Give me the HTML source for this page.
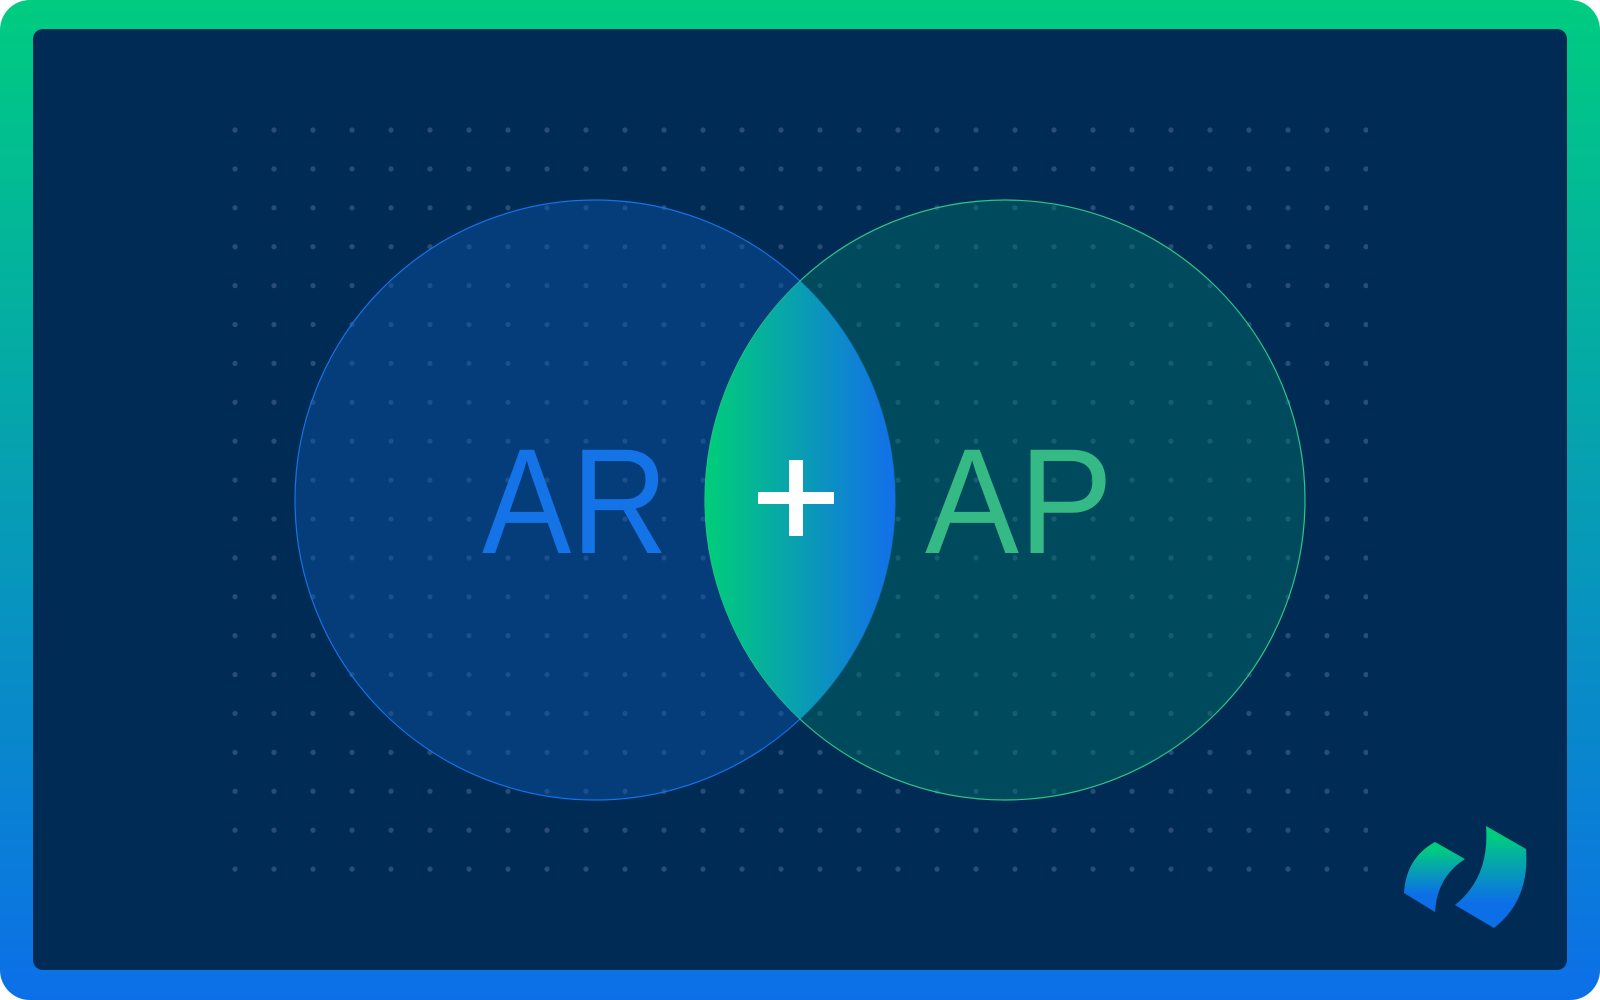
<!DOCTYPE html>
<html><head><meta charset="utf-8"><style>html,body{margin:0;padding:0;width:1600px;height:1000px;overflow:hidden;background:#fff}</style></head><body>
<svg width="1600" height="1000" viewBox="0 0 1600 1000" xmlns="http://www.w3.org/2000/svg">
<defs>
<linearGradient id="fr" x1="0" y1="0" x2="0" y2="1"><stop offset="0" stop-color="#00cc80"/><stop offset="1" stop-color="#0c6fe8"/></linearGradient>
<linearGradient id="lens" gradientUnits="userSpaceOnUse" x1="708" y1="0" x2="893" y2="0"><stop offset="0" stop-color="#00cc7a"/><stop offset="1" stop-color="#1270ea"/></linearGradient>
<linearGradient id="lg" x1="0" y1="0" x2="0" y2="1"><stop offset="0.1" stop-color="#00cc80"/><stop offset="0.75" stop-color="#0c6fe8"/></linearGradient>
<pattern id="dots" x="235" y="130" width="39" height="38.9" patternUnits="userSpaceOnUse"><circle cx="0" cy="0" r="2.6" fill="#2a4d78"/><circle cx="39" cy="0" r="2.6" fill="#2a4d78"/><circle cx="0" cy="38.9" r="2.6" fill="#2a4d78"/><circle cx="39" cy="38.9" r="2.6" fill="#2a4d78"/></pattern>
<clipPath id="cl"><circle cx="595" cy="500" r="300"/></clipPath>
</defs>
<rect x="0" y="0" width="1600" height="1000" rx="30" fill="url(#fr)"/>
<rect x="33" y="29" width="1534" height="941" rx="10" fill="#002b55"/>
<rect x="232" y="127" width="1136" height="746" fill="url(#dots)"/>
<circle cx="595" cy="500" r="300" fill="#0a52a8" fill-opacity="0.45" stroke="#1473e6" stroke-width="1.2"/>
<circle cx="1005" cy="500" r="300" fill="#00716a" fill-opacity="0.45" stroke="#2fc48a" stroke-width="1.2"/>
<circle cx="1005" cy="500" r="300" fill="url(#lens)" clip-path="url(#cl)"/>
<text x="482" y="553" font-family="Liberation Sans, sans-serif" font-size="150" fill="#1473e6" textLength="186" lengthAdjust="spacingAndGlyphs">AR</text>
<text x="925" y="553" font-family="Liberation Sans, sans-serif" font-size="150" fill="#35b985" textLength="188" lengthAdjust="spacingAndGlyphs">AP</text>
<rect x="758" y="492" width="76" height="12" fill="#fff"/>
<rect x="789" y="460" width="14" height="76" fill="#fff"/>
<path d="M1404,893 Q1406,858 1435,842 L1465,859 Q1437,877 1435,912 Z" fill="url(#lg)"/>
<path d="M1486,826 L1526,849 Q1530,900 1494,928 L1455,905 Q1490,877 1486,826 Z" fill="url(#lg)"/>
</svg>
</body></html>
